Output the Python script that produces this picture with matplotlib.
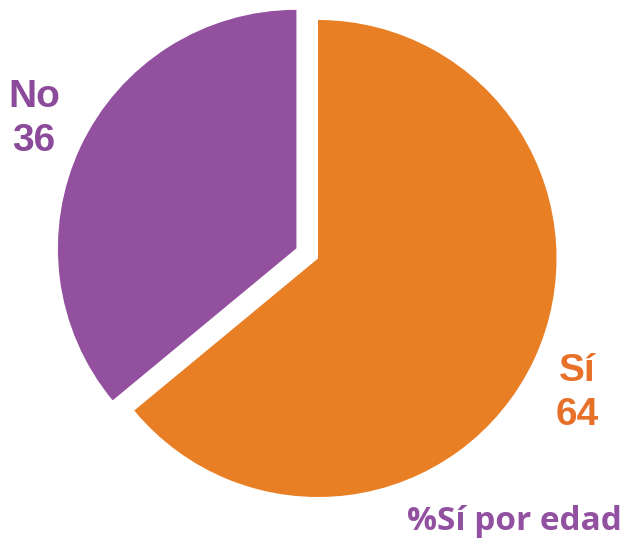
import matplotlib
matplotlib.use('Agg')
import matplotlib.pyplot as plt

labels = ['Sí', 'No']
values = [64, 36]
colors = ['#E97F24', '#92509E']
explode = [0, 0.1]

fig = plt.figure(figsize=(6.27, 5.39), dpi=100)
ax = fig.add_axes([0, 0, 1, 1])

ax.pie(values, colors=colors, explode=explode, startangle=90,
       counterclock=False, radius=1)

# limits so that the pie sits where it does in the original
ax.set_xlim(-318/238.5, (627-318)/238.5)
ax.set_ylim(-(539-258.5)/238.5, 258.5/238.5)
ax.axis('off')

font = ['Liberation Sans', 'DejaVu Sans']
fig.text(34/627, 1 - 119/539, 'No\n36', ha='center', va='center',
         fontsize=28, fontweight='bold', color='#8C4B9A',
         family=font, linespacing=1.32)
fig.text(577/627, 1 - 393/539, 'Sí\n64', ha='center', va='center',
         fontsize=28, fontweight='bold', color='#E8712A',
         family=font, linespacing=1.32)
fig.text(622/627, 1 - 530/539, '%Sí por edad', ha='right', va='baseline',
         fontsize=24, fontweight='bold', color='#9250A0',
         family=['Open Sans', 'DejaVu Sans'])

fig.savefig('out.png', dpi=100)
